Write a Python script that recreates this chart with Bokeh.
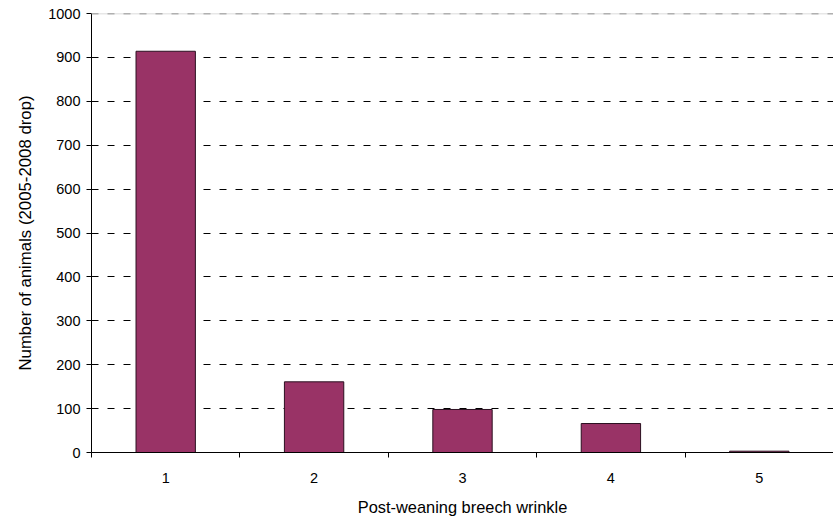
from bokeh.plotting import figure
from bokeh.models import Range1d, FixedTicker, Span, ColumnDataSource
from bokeh.embed import file_html
from bokeh.resources import INLINE

# Data
wrinkle_scores = [1, 2, 3, 4, 5]
animal_counts = [914, 161, 98, 66, 3]
y_ticks = [0, 100, 200, 300, 400, 500, 600, 700, 800, 900, 1000]
grid_ticks = [100, 200, 300, 400, 500, 600, 700, 800, 900]
category_edges = [0.5, 1.5, 2.5, 3.5, 4.5, 5.5]

FONT = "Liberation Sans"

p = figure(width=833, height=519, output_backend="svg", toolbar_location=None,
           x_range=Range1d(0.5, 5.5), y_range=Range1d(0, 1000),
           min_border_left=91, min_border_right=0, min_border_top=13, min_border_bottom=67)
p.outline_line_color = None
p.background_fill_color = "white"
p.border_fill_color = "white"

src = ColumnDataSource(dict(x=wrinkle_scores, top=animal_counts))
p.vbar(x="x", top="top", width=0.4, bottom=0, source=src,
       fill_color="#993366", line_color="#2b1020", line_width=1)

# grid
p.xgrid.visible = False
p.ygrid.ticker = FixedTicker(ticks=grid_ticks)
p.ygrid.grid_line_color = "black"
p.ygrid.grid_line_dash = "7 9"
p.ygrid.grid_line_width = 1
p.add_layout(Span(location=1000, dimension="width", line_color="#d0d0d0",
                  line_width=1.5))
p.add_layout(Span(location=1000, dimension="width", line_color="#7a7a7a",
                  line_dash="7 9", line_width=1.5))

# y axis
p.yaxis.ticker = FixedTicker(ticks=y_ticks)
p.yaxis.axis_line_color = "black"
p.yaxis.major_tick_line_color = "black"
p.yaxis.major_tick_out = 5
p.yaxis.major_tick_in = 0
p.yaxis.minor_tick_line_color = None
p.yaxis.major_label_text_font = FONT
p.yaxis.major_label_text_font_size = "14.5px"
p.yaxis.major_label_text_color = "black"
p.yaxis.major_label_standoff = 6
p.yaxis.axis_label = "Number of animals (2005-2008 drop)"
p.yaxis.axis_label_text_font = FONT
p.yaxis.axis_label_text_font_size = "16.8px"
p.yaxis.axis_label_text_font_style = "normal"
p.yaxis.axis_label_text_color = "black"
p.yaxis.axis_label_standoff = 10

# x axis
p.xaxis.ticker = FixedTicker(ticks=wrinkle_scores, minor_ticks=category_edges)
p.xaxis.axis_line_color = "black"
p.xaxis.major_tick_line_color = None
p.xaxis.minor_tick_line_color = "black"
p.xaxis.minor_tick_out = 5
p.xaxis.minor_tick_in = 0
p.xaxis.major_label_text_font = FONT
p.xaxis.major_label_text_font_size = "14.5px"
p.xaxis.major_label_text_color = "black"
p.xaxis.major_label_standoff = 14
p.xaxis.axis_label = "Post-weaning breech wrinkle"
p.xaxis.axis_label_text_font = FONT
p.xaxis.axis_label_text_font_size = "16.4px"
p.xaxis.axis_label_text_font_style = "normal"
p.xaxis.axis_label_text_color = "black"
p.xaxis.axis_label_standoff = 12

open("out.html", "w").write(file_html(p, INLINE))
